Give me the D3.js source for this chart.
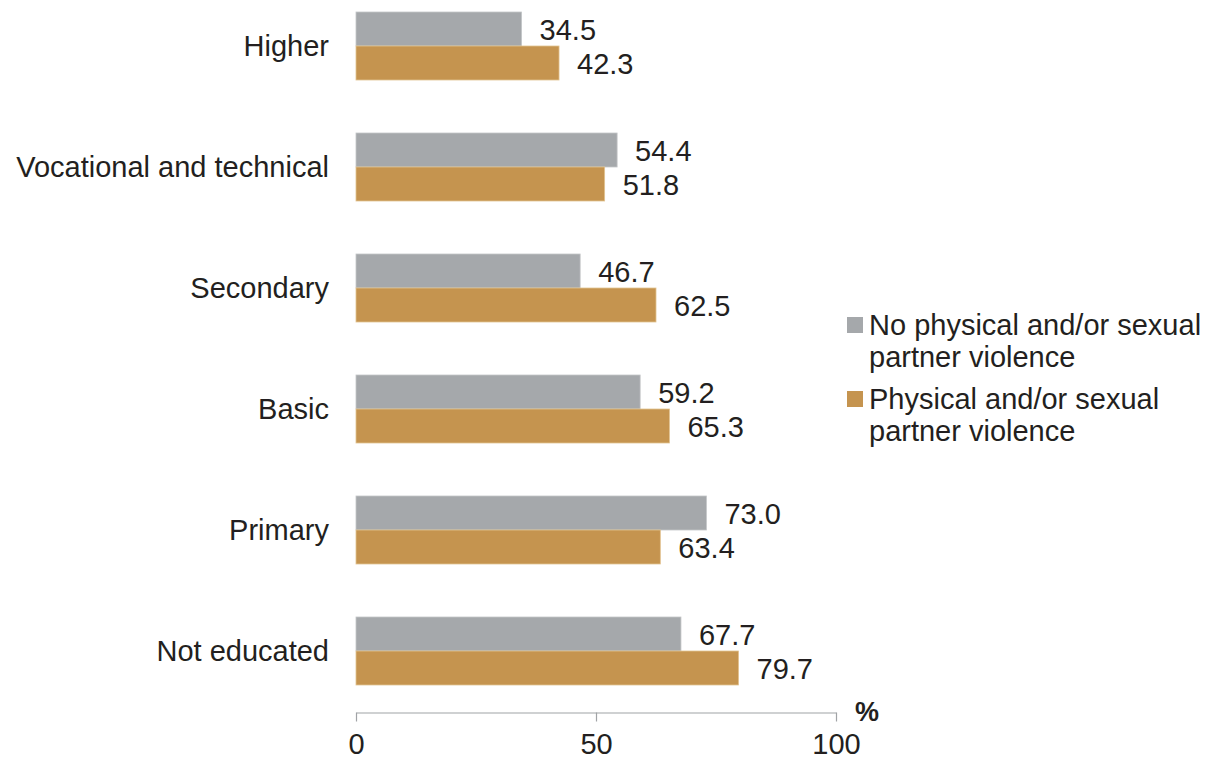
<!DOCTYPE html>
<html><head><meta charset="utf-8">
<script src="https://cdn.jsdelivr.net/npm/d3@7"></script>
<style>body{margin:0;background:#fff;} svg{display:block;font-family:"Liberation Sans",Arial,sans-serif;}</style>
</head><body>
<svg id="c" width="1217" height="762"></svg>
<script>
const categories = ["Higher","Vocational and technical","Secondary","Basic","Primary","Not educated"];
const seriesNames = ["No physical and/or sexual partner violence","Physical and/or sexual partner violence"];
const noViolence = [34.5,54.4,46.7,59.2,73.0,67.7];
const violence = [42.3,51.8,62.5,65.3,63.4,79.7];
const xTicks = [0,50,100];
const colors = ["#a5a8ab","#c5944f"];
const legendLines = [["No physical and/or sexual","partner violence"],["Physical and/or sexual","partner violence"]];

const svg = d3.select("#c");
const textColor = "#231f20";
const FS = 29;
const x = d3.scaleLinear().domain([0,100]).range([356,836]);
const y = d3.scaleBand().domain(categories).range([-14.5,711.5]).paddingInner(0.438).paddingOuter(0.219);
const inner = d3.scaleBand().domain([0,1]).range([0,y.bandwidth()]);

const series = [noViolence, violence];
series.forEach((vals,si)=>{
  const g = svg.append("g");
  g.selectAll("rect").data(categories).join("rect")
    .attr("x", x(0))
    .attr("y", d=>y(d)+inner(si))
    .attr("width", (d,i)=>x(vals[i])-x(0))
    .attr("height", inner.bandwidth())
    .attr("fill", colors[si])
    .attr("stroke", si===0?"#c4c6c8":"#e2c391").attr("stroke-width",0.8);
  g.selectAll("text").data(categories).join("text")
    .attr("x", (d,i)=>x(vals[i])+18)
    .attr("y", d=>y(d)+inner(si)+inner.bandwidth()/2+1)
    .attr("dy","0.35em")
    .attr("font-size",FS).attr("fill",textColor)
    .text((d,i)=>vals[i].toFixed(1));
});

// category labels
svg.append("g").selectAll("text").data(categories).join("text")
  .attr("x",329).attr("y",d=>y(d)+y.bandwidth()/2).attr("dy","0.35em")
  .attr("text-anchor","end").attr("font-size",FS).attr("fill",textColor).text(d=>d);

// x axis
const ax = svg.append("g").attr("transform","translate(0,712.5)")
  .call(d3.axisBottom(x).tickValues(xTicks).tickSize(9).tickPadding(12).tickSizeOuter(0));
ax.select(".domain").attr("stroke","#a0a3a6").attr("stroke-width",1.2);
ax.selectAll(".tick line").attr("stroke","#a0a3a6").attr("stroke-width",1.2);
ax.selectAll(".tick text").attr("font-size",FS).attr("fill",textColor)
  .attr("font-family","Liberation Sans, Arial, sans-serif");
svg.append("text").attr("x",855).attr("y",721).attr("font-size",27).attr("font-weight","bold")
  .attr("fill",textColor).text("%");

// legend
const lg = svg.append("g");
legendLines.forEach((lines,i)=>{
  const top = 317 + i*74;
  lg.append("rect").attr("x",847).attr("y",top).attr("width",16).attr("height",16).attr("fill",colors[i]);
  lines.forEach((l,j)=>{
    lg.append("text").attr("x",869).attr("y",top+18+j*32).attr("font-size",FS).attr("fill",textColor).text(l);
  });
});
</script>
</body></html>
